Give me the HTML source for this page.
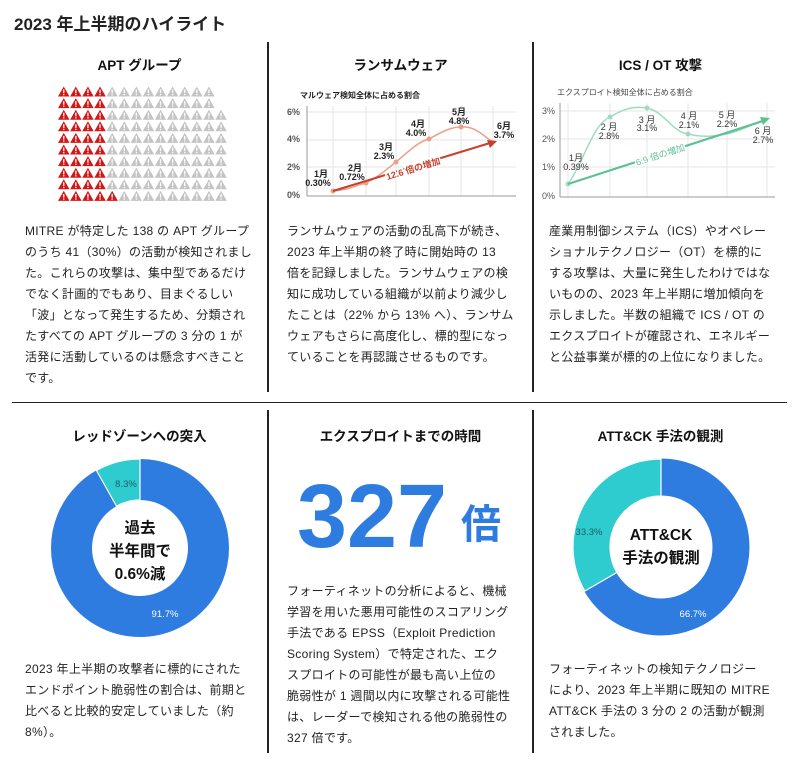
<!DOCTYPE html>
<html><head><meta charset="utf-8">
<style>
body{margin:0;background:#fff;width:800px;height:761px;overflow:hidden;font-family:"Liberation Sans","Noto Sans CJK JP",sans-serif;color:#222}
.p{position:absolute;font-size:12px;line-height:21px;color:#222;white-space:nowrap;letter-spacing:0.3px}
.t{position:absolute;font-size:13.5px;font-weight:bold;text-align:center;color:#111}
</style></head><body>
<div style="position:absolute;left:14px;top:10px;font-size:17px;font-weight:bold">2023 年上半期のハイライト</div>
<div style="position:absolute;left:267px;top:42px;width:2px;height:350px;background:#222"></div>
<div style="position:absolute;left:532px;top:42px;width:2px;height:350px;background:#222"></div>
<div style="position:absolute;left:12px;top:402px;width:775px;height:1px;background:#222"></div>
<div style="position:absolute;left:267px;top:410px;width:2px;height:343px;background:#222"></div>
<div style="position:absolute;left:532px;top:410px;width:2px;height:343px;background:#222"></div>

<div class="t" style="left:12px;top:54px;width:255px">APT グループ</div>
<div class="t" style="left:269px;top:54px;width:263px">ランサムウェア</div>
<div class="t" style="left:534px;top:54px;width:253px">ICS / OT 攻撃</div>
<div class="t" style="left:12px;top:425px;width:255px">レッドゾーンへの突入</div>
<div class="t" style="left:269px;top:425px;width:263px">エクスプロイトまでの時間</div>
<div class="t" style="left:534px;top:425px;width:253px">ATT&amp;CK 手法の観測</div>

<svg style="position:absolute;left:0;top:0" width="800" height="761" font-family="Liberation Sans, Noto Sans CJK JP, sans-serif">
<g id="icons"></g>
<text x="300" y="98" font-size="8" font-weight="bold" fill="#222">マルウェア検知全体に占める割合</text>
<g stroke="#e6e6e6" stroke-width="1">
<line x1="333" y1="106" x2="333" y2="196"/><line x1="366" y1="106" x2="366" y2="196"/><line x1="396" y1="106" x2="396" y2="196"/><line x1="429" y1="106" x2="429" y2="196"/><line x1="461" y1="106" x2="461" y2="196"/><line x1="493" y1="106" x2="493" y2="196"/>
<line x1="307" y1="112" x2="516" y2="112"/><line x1="307" y1="140" x2="516" y2="140"/><line x1="307" y1="167" x2="516" y2="167"/>
</g>
<line x1="307" y1="106" x2="307" y2="196" stroke="#999"/><line x1="307" y1="196" x2="516" y2="196" stroke="#999"/>
<g font-size="9" font-weight="bold" fill="#555"><text x="287" y="115">6%</text><text x="287" y="142">4%</text><text x="287" y="170">2%</text><text x="287" y="198">0%</text></g>
<path d="M333,191 C350,190 356,185 366,183 C380,176 388,168 396,162 C410,150 418,142 429,139 C445,130 452,127 461,127 C475,126 482,135 493,142" fill="none" stroke="#e8a088" stroke-width="1.5"/>
<g fill="#e8a088"><circle cx="333" cy="191" r="2.5"/><circle cx="366" cy="183" r="2.5"/><circle cx="396" cy="162" r="2.5"/><circle cx="429" cy="139" r="2.5"/><circle cx="461" cy="127" r="2.5"/></g>
<line x1="333" y1="191" x2="490" y2="143" stroke="#c8402a" stroke-width="2"/>
<polygon points="497,141 487,140 490,148" fill="#c8402a"/>
<text x="413" y="172" font-size="9" font-weight="bold" fill="#c8402a" text-anchor="middle" transform="rotate(-17 413 168)" stroke="#fff" stroke-width="3" paint-order="stroke">12.6 倍の増加</text>
<g font-size="9" font-weight="bold" fill="#222" text-anchor="middle">
<text x="321" y="177">1月</text><text x="318" y="186">0.30%</text>
<text x="355" y="171">2月</text><text x="352" y="180">0.72%</text>
<text x="386" y="150">3月</text><text x="384" y="159">2.3%</text>
<text x="418" y="127">4月</text><text x="416" y="136">4.0%</text>
<text x="459" y="115">5月</text><text x="459" y="124">4.8%</text>
<text x="504" y="129">6月</text><text x="504" y="138">3.7%</text>
</g>
<text x="557" y="95" font-size="8" fill="#444">エクスプロイト検知全体に占める割合</text>
<g stroke="#e6e6e6" stroke-width="1">
<line x1="568" y1="103" x2="568" y2="197"/><line x1="610" y1="103" x2="610" y2="197"/><line x1="647" y1="103" x2="647" y2="197"/><line x1="688" y1="103" x2="688" y2="197"/><line x1="727" y1="103" x2="727" y2="197"/><line x1="767" y1="103" x2="767" y2="197"/>
<line x1="560" y1="111" x2="775" y2="111"/><line x1="560" y1="139" x2="775" y2="139"/><line x1="560" y1="167" x2="775" y2="167"/>
</g>
<line x1="560" y1="103" x2="560" y2="197" stroke="#999"/><line x1="560" y1="197" x2="775" y2="197" stroke="#999"/>
<g font-size="9" fill="#555"><text x="542" y="114">3%</text><text x="542" y="142">2%</text><text x="542" y="170">1%</text><text x="542" y="199">0%</text></g>
<path d="M568,184 C585,160 592,125 610,117 C625,108 635,106 647,108 C665,112 672,132 688,134 C705,138 715,136 727,134 C745,130 755,122 767,119" fill="none" stroke="#9fdcbf" stroke-width="1.5"/>
<g fill="#9fdcbf"><circle cx="568" cy="184" r="2.5"/><circle cx="610" cy="117" r="2.5"/><circle cx="647" cy="108" r="2.5"/><circle cx="688" cy="134" r="2.5"/></g>
<line x1="568" y1="184" x2="763" y2="121" stroke="#5cc194" stroke-width="2.2"/>
<polygon points="770,118 760,117 763,125" fill="#5cc194"/>
<text x="660" y="158" font-size="9" fill="#5cc194" text-anchor="middle" transform="rotate(-18 660 154)" stroke="#fff" stroke-width="3" paint-order="stroke">6.9 倍の増加</text>
<g font-size="9" fill="#333" text-anchor="middle">
<text x="576" y="161">1月</text><text x="576" y="170">0.39%</text>
<text x="609" y="130">2 月</text><text x="609" y="139">2.8%</text>
<text x="647" y="123">3 月</text><text x="647" y="131">3.1%</text>
<text x="689" y="119">4 月</text><text x="689" y="128">2.1%</text>
<text x="727" y="118">5 月</text><text x="727" y="127">2.2%</text>
<text x="763" y="134">6 月</text><text x="763" y="143">2.7%</text>
</g>
<circle cx="140" cy="548" r="68.5" fill="none" stroke="#2e7ce0" stroke-width="41"/>
<path d="M140,459 L140,500 A48,48 0 0 0 116.5,506.2 L96.4,470.4 A89,89 0 0 1 140,459 Z" fill="#2ecbcf" stroke="#fff" stroke-width="1.2"/>
<text x="126" y="487" font-size="9.5" fill="#1d5f66" text-anchor="middle">8.3%</text>
<text x="165" y="617" font-size="9.5" fill="#fff" text-anchor="middle">91.7%</text>
<g font-size="15.5" font-weight="bold" fill="#111" text-anchor="middle"><text x="140" y="533">過去</text><text x="140" y="556">半年間で</text><text x="140" y="579">0.6%減</text></g>
<circle cx="661" cy="547" r="70" fill="none" stroke="#2e7ce0" stroke-width="37"/>
<path d="M661,459 L661,496 A51,51 0 0 0 616.8,572.5 L584.8,591 A88,88 0 0 1 661,459 Z" fill="#2ecbcf" stroke="#fff" stroke-width="1.2"/>
<text x="589" y="535" font-size="9.5" fill="#1d5f66" text-anchor="middle">33.3%</text>
<text x="693" y="617" font-size="9.5" fill="#fff" text-anchor="middle">66.7%</text>
<g font-size="15.5" font-weight="bold" fill="#111" text-anchor="middle"><text x="661" y="540">ATT&amp;CK</text><text x="661" y="563">手法の観測</text></g>
<text x="297" y="547" font-size="90" font-weight="bold" fill="#2e7ce0" textLength="150" lengthAdjust="spacingAndGlyphs">327</text>
<text x="461" y="538" font-size="40" font-weight="bold" fill="#2e7ce0">倍</text>
</svg>

<div class="p" style="left:25px;top:221px">MITRE が特定した 138 の APT グループ<br>のうち 41（30%）の活動が検知されまし<br>た。これらの攻撃は、集中型であるだけ<br>でなく計画的でもあり、目まぐるしい<br>「波」となって発生するため、分類され<br>たすべての APT グループの 3 分の 1 が<br>活発に活動しているのは懸念すべきこと<br>です。</div>
<div class="p" style="left:287px;top:221px">ランサムウェアの活動の乱高下が続き、<br>2023 年上半期の終了時に開始時の 13<br>倍を記録しました。ランサムウェアの検<br>知に成功している組織が以前より減少し<br>たことは（22% から 13% へ）、ランサム<br>ウェアもさらに高度化し、標的型になっ<br>ていることを再認識させるものです。</div>
<div class="p" style="left:549px;top:221px">産業用制御システム（ICS）やオペレー<br>ショナルテクノロジー（OT）を標的に<br>する攻撃は、大量に発生したわけではな<br>いものの、2023 年上半期に増加傾向を<br>示しました。半数の組織で ICS / OT の<br>エクスプロイトが確認され、エネルギー<br>と公益事業が標的の上位になりました。</div>
<div class="p" style="left:25px;top:659px">2023 年上半期の攻撃者に標的にされた<br>エンドポイント脆弱性の割合は、前期と<br>比べると比較的安定していました（約<br>8%）。</div>
<div class="p" style="left:287px;top:581px">フォーティネットの分析によると、機械<br>学習を用いた悪用可能性のスコアリング<br>手法である EPSS（Exploit Prediction<br>Scoring System）で特定された、エク<br>スプロイトの可能性が最も高い上位の<br>脆弱性が 1 週間以内に攻撃される可能性<br>は、レーダーで検知される他の脆弱性の<br>327 倍です。</div>
<div class="p" style="left:549px;top:659px">フォーティネットの検知テクノロジー<br>により、2023 年上半期に既知の MITRE<br>ATT&amp;CK 手法の 3 分の 2 の活動が観測<br>されました。</div>

<script>
var g=document.getElementById('icons'),s='';
for(var r=0;r<10;r++){var cols=r<2?13:14;for(var c=0;c<cols;c++){var x=58+c*12.1,y=86.5+r*11.6;var red=(c<4&&r<9)||(r==9&&c<5);var col=red?'#d01818':'#c4c4c4';
s+='<polygon points="'+(x+5.75)+','+y+' '+(x+11.5)+','+(y+10)+' '+x+','+(y+10)+'" fill="'+col+'"/><rect x="'+(x+5.1)+'" y="'+(y+3)+'" width="1.3" height="3.7" fill="#fff"/><rect x="'+(x+5.1)+'" y="'+(y+7.5)+'" width="1.3" height="1.3" fill="#fff"/>';}}
g.innerHTML=s;
</script>
</body></html>
